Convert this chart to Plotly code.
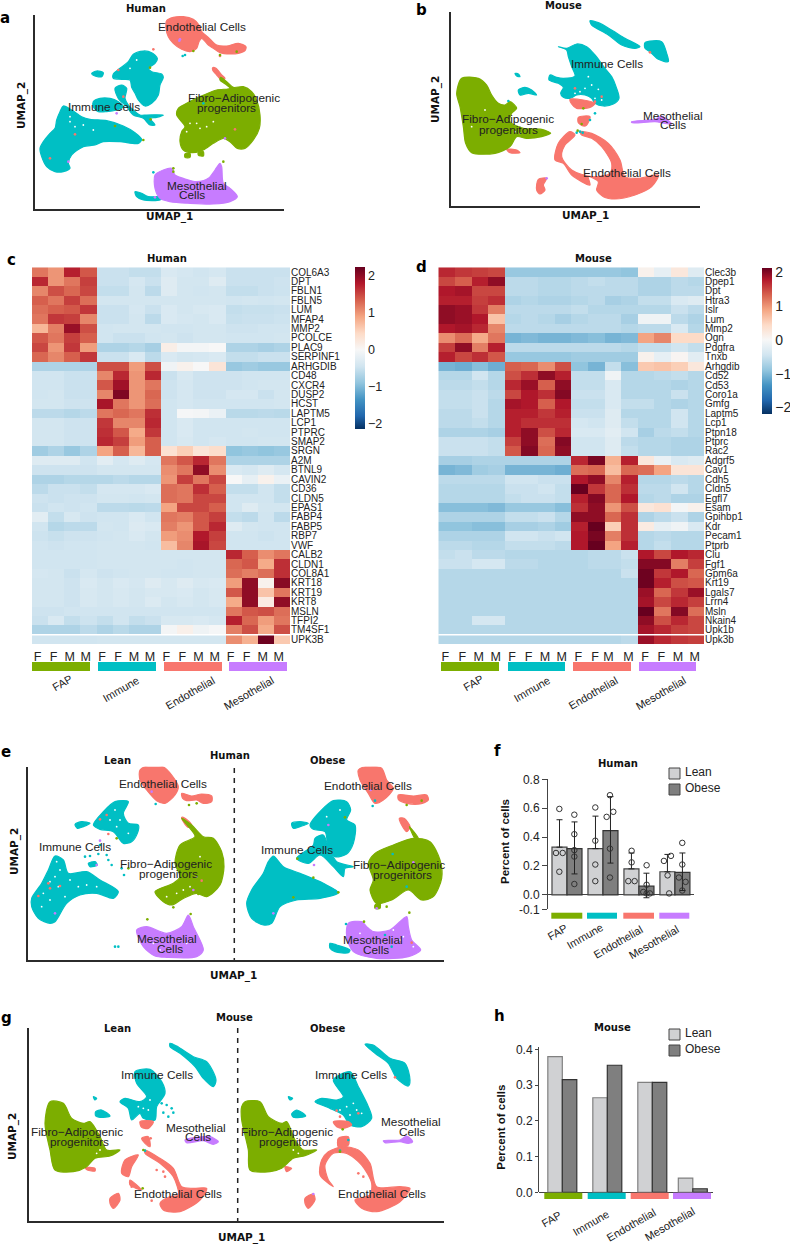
import plotly.graph_objects as go

W, H = 790, 1244
TEAL, GREEN, PINK, PURPLE = "#00BFC4", "#7CAE00", "#F8766D", "#C77CFF"
CLUSTER_COLORS = {"Immune": TEAL, "Endothelial": PINK, "FAP": GREEN, "Mesothelial": PURPLE}
INK = "#222222"
SANS = "Liberation Sans"
BOLD = "DejaVu Sans"

# ---------- UMAP cluster outlines (panel units) ----------
a_immune = [
    [(405,575),(425,580),(445,590),(490,590),(480,600),(430,600),(410,590)],
    [(190,318),(215,330),(245,350),(270,358),(320,362),(370,378),(405,398),(425,418),(415,430),(360,425),(310,425),(285,435),(250,440),(215,465),(205,490),(210,505),(190,515),(165,515),(140,500),(125,470),(120,445),(130,425),(150,400),(165,385),(170,360),(180,335)],
    [(340,222),(360,205),(385,185),(400,163),(430,153),(455,158),(472,175),(465,190),(445,205),(455,215),(485,222),(490,232),(480,255),(475,285),(455,310),(435,318),(415,300),(405,280),(395,262),(390,240),(365,238),(340,235)],
    [(275,220),(290,213),(310,218),(305,230),(285,228)],
    [(280,305),(300,295),(330,295),(355,305),(370,320),(350,330),(320,335),(295,335),(280,320)],
    [(345,265),(365,255),(380,265),(375,295),(385,315),(400,330),(420,345),(440,345),(490,345),(470,352),(450,355),(465,375),(450,375),(430,355),(400,345),(380,320),(355,295)],
]
a_endothelial = [
    [(500,62),(520,52),(550,50),(580,58),(597,75),(605,95),(625,112),(650,135),(680,138),(715,130),(738,140),(735,152),(715,160),(690,162),(660,158),(640,145),(625,135),(605,115),(597,125),(590,145),(570,155),(545,148),(520,130),(505,110),(498,85)],
    [(638,203),(648,205),(665,225),(675,235),(665,240),(650,225),(638,210)],
]
a_fap = [
    [(662,232),(680,245),(700,262),(730,260),(755,275),(770,300),(780,345),(778,385),(760,420),(735,445),(712,445),(690,425),(670,415),(640,430),(610,450),(575,458),(550,450),(540,425),(545,395),(555,380),(530,345),(535,325),(560,310),(600,290),(650,270),(690,265),(680,255),(660,240)],
    [(555,462),(570,460),(570,472),(555,472)],
    [(595,455),(610,455),(610,468),(595,465)],
]
a_meso = [
    [(465,525),(490,510),(515,505),(525,525),(550,535),(590,545),(625,535),(645,510),(660,490),(665,500),(670,550),(690,565),(712,590),(690,605),(640,612),(570,610),(510,605),(480,595),(465,565)],
]
a_strays = {
    "Immune": [(555,165),(460,517),(548,168),(610,310)],
    "Endothelial": [(225,403),(150,475),(355,210),(460,148),(705,388),(370,290),(660,168)],
    "FAP": [(450,203),(430,420),(545,405),(580,153),(660,165),(710,155),(520,505),(520,515),(670,485),(452,358),(345,378)],
    "Mesothelial": [(538,122),(350,340),(205,485),(675,415),(465,592),(540,118)],
}
a_gaps = [(210,350),(225,380),(250,375),(280,390),(590,370),(620,380),(640,365),(570,370),(600,385),(410,180),(390,205),(560,395),(210,365)]

b_immune = [
    [(585,62),(610,68),(650,90),(690,115),(735,140),(720,145),(680,135),(640,105),(590,75)],
    [(750,128),(800,125),(815,160),(820,185),(790,178),(765,155),(750,145)],
    [(490,140),(515,145),(545,132),(575,140),(600,165),(630,205),(650,230),(665,265),(672,295),(655,312),(625,318),(600,310),(590,295),(570,285),(545,285),(525,295),(505,292),(497,280),(505,262),(490,250),(462,240),(465,225),(485,232),(505,235),(540,228),(530,200),(520,170),(515,150)],
    [(360,220),(370,222),(375,230),(365,228)],
    [(370,270),(390,262),(410,270),(425,285),(400,280),(375,285)],
]
b_endothelial = [
    [(525,298),(565,300),(600,310),(585,322),(545,325),(530,312)],
    [(550,352),(585,350),(575,375),(565,378),(550,368)],
    [(555,395),(590,400),(640,430),(675,480),(690,530),(730,535),(790,525),(770,560),(720,585),(660,597),(625,590),(605,570),(610,545),(580,530),(585,555),(530,525),(505,490),(480,480),(490,430),(525,395),(540,405),(510,435),(500,470),(530,510),(590,530),(645,520),(650,490),(620,440),(590,415),(560,405)],
    [(430,538),(455,535),(445,555),(450,570),(435,582),(425,570)],
    [(335,448),(365,450),(375,458),(345,458)],
]
b_fap = [
    [(200,235),(250,235),(275,255),(290,285),(310,310),(330,315),(345,305),(365,325),(350,340),(345,365),(385,385),(440,388),(467,400),(440,410),(395,415),(365,410),(345,440),(300,460),(230,458),(212,430),(205,380),(195,320),(185,280)],
]
b_meso = [
    [(710,365),(780,358),(800,348),(815,358),(830,372),(810,370),(780,365),(710,368)],
]
b_strays = {
    "Immune": [(545,398),(555,395),(563,398),(585,360),(340,303),(600,340)],
    "Endothelial": [(620,290),(540,265),(765,157),(600,305)],
    "FAP": [(560,372),(565,325),(548,392)],
    "Mesothelial": [(455,535)],
}
b_gaps = [(580,230),(610,268),(600,295),(570,265),(555,275),(540,280),(620,300),(590,255),(230,380),(270,330),(375,400),(360,395)]

e_immune = [
    [(385,215),(345,215),(310,245),(280,285),(300,298),(340,305),(370,340),(395,335),(412,310),(415,285),(385,280),(370,250)],
    [(225,283),(245,275),(270,280),(250,290),(232,295)],
    [(165,378),(190,390),(205,430),(260,425),(300,450),(355,485),(340,505),(290,490),(240,495),(200,520),(165,575),(150,580),(115,565),(95,530),(95,505),(125,460),(145,420)],
    [(265,400),(285,395),(292,405),(270,410)],
    [(875,280),(900,275),(925,280),(900,290),(880,295)],
    [(965,240),(1000,212),(1040,215),(1052,240),(1040,270),(1065,285),(1060,340),(1040,372),(1005,380),(985,355),(975,305),(940,298),(930,285)],
    [(945,325),(970,315),(985,350),(1010,395),(1060,410),(1035,415),(1030,440),(1000,410),(960,375),(925,400),(890,385),(940,345)],
    [(820,378),(850,410),(900,430),(970,460),(1015,488),(960,505),(890,510),(840,530),(815,580),(790,585),(755,565),(740,520),(755,480),(790,430),(805,395)],
    [(990,640),(1010,645),(1050,660),(1045,668),(1005,665),(990,655)],
]
e_endothelial = [
    [(420,120),(450,105),(490,110),(515,135),(535,170),(525,195),(495,220),(470,212),(440,180),(420,150)],
    [(545,190),(575,198),(605,192),(635,198),(635,215),(610,220),(590,210),(560,212),(548,205)],
    [(545,262),(555,265),(575,285),(565,292),(550,275)],
    [(1075,120),(1105,108),(1145,115),(1160,150),(1180,175),(1150,210),(1125,220),(1105,190),(1080,150)],
    [(1195,195),(1240,198),(1280,195),(1285,210),(1260,222),(1220,220),(1195,208)],
    [(1198,265),(1212,265),(1230,290),(1220,305),(1205,285)],
]
e_fap = [
    [(545,265),(575,285),(610,320),(640,325),(665,365),(672,410),(660,465),(620,500),(590,490),(550,505),(515,525),(490,515),(465,485),(520,460),(540,440),(525,400),(540,345),(585,320),(570,295)],
    [(1240,325),(1290,335),(1320,390),(1325,445),(1300,500),(1265,510),(1225,480),(1175,510),(1130,520),(1110,480),(1120,450),(1105,400),(1125,370),(1180,345)],
    [(1125,525),(1140,520),(1140,535),(1125,535)],
    [(1228,290),(1255,325),(1245,325),(1232,300)],
]
e_meso = [
    [(565,555),(580,590),(610,660),(590,680),(500,682),(465,678),(430,650),(410,600),(440,590),(500,610),(545,590)],
    [(1045,580),(1085,575),(1100,590),(1120,605),(1170,600),(1220,560),(1225,590),(1235,630),(1262,660),(1225,680),(1130,685),(1060,665),(1040,620)],
]
e_strays = {
    "Immune": [(300,345),(320,375),(295,372),(270,378),(255,380),(325,390),(335,405),(365,415),(372,435),(345,650),(355,650),(467,222),(1125,212),(1118,228),(1178,372),(1220,470),(1175,650),(1155,615),(1038,582)],
    "Endothelial": [(145,460),(180,468),(150,475),(115,498),(320,255),(325,312),(300,268),(1235,638),(605,452)],
    "FAP": [(567,225),(590,220),(442,568),(572,552),(350,325),(385,415),(892,386),(1035,262),(940,443),(880,502),(1015,487),(1092,575),(1228,548),(1160,530),(1265,212),(1220,225),(595,492),(520,532)],
    "Mesothelial": [(455,185),(165,550),(290,405),(300,332),(440,595),(580,480),(1112,180),(985,285),(942,405),(820,550),(1240,397),(1130,535)],
}
e_gaps = [(180,420),(165,440),(210,450),(130,490),(150,510),(235,470),(260,465),(290,470),(175,470),(125,530),(170,395),(150,455),(195,500),(345,240),(360,270),(330,270),(385,310),(350,290),(1020,240),(980,260),(570,470),(550,480),(530,490),(590,440),(500,500),(600,380),(480,660),(560,640),(460,640),(1150,640),(1200,630),(1180,600),(1210,620),(1240,650),(1120,640),(1080,610)]

g_immune = [
    [(510,160),(530,168),(580,200),(620,215),(648,270),(640,290),(610,265),(585,230),(540,190),(510,170)],
    [(405,245),(450,238),(485,275),(495,310),(470,350),(465,390),(430,385),(420,370),(395,390),(385,355),(360,335),(375,325),(420,335),(440,320),(410,280)],
    [(280,320),(290,325),(285,330)],
    [(287,365),(305,360),(330,378),(300,382),(287,378)],
    [(1095,163),(1120,165),(1170,205),(1215,220),(1230,270),(1225,288),(1190,265),(1165,220),(1125,190)],
    [(1000,270),(1050,245),(1075,290),(1105,350),(1115,385),(1085,410),(1050,405),(1030,375),(990,355),(965,345),(945,335),(965,325),(1010,330),(1030,320)],
    [(865,320),(878,325),(870,330)],
    [(875,372),(890,360),(917,378),(880,382)],
]
g_endothelial = [
    [(420,395),(460,395),(445,415),(425,412)],
    [(425,445),(445,440),(450,470),(435,460)],
    [(435,480),(480,505),(520,535),(545,590),(580,595),(620,595),(600,630),(540,665),(490,660),(480,640),(510,620),(535,615),(520,560),(480,520),(435,490)],
    [(375,510),(415,495),(395,530),(385,560),(365,550)],
    [(390,570),(425,600),(390,585)],
    [(330,625),(355,610),(360,630),(340,655),(330,640)],
    [(255,533),(285,535),(285,543),(262,540)],
    [(1000,395),(1045,395),(1055,405),(1030,415),(1010,410)],
    [(1015,445),(1045,440),(1045,465),(1015,470)],
    [(1030,470),(1075,480),(1110,520),(1130,590),(1200,590),(1230,595),(1200,635),(1130,665),(1085,655),(1065,630),(1110,615),(1115,580),(1085,525),(1040,490),(1000,490),(975,525),(985,570),(1000,590),(960,555),(965,510),(985,485)],
    [(915,625),(940,612),(945,630),(925,655),(915,640)],
    [(855,530),(875,535),(860,545)],
]
g_fap = [
    [(150,335),(190,340),(215,385),(250,400),(270,395),(300,440),(320,480),(360,480),(330,498),(285,505),(260,530),(220,545),(165,540),(150,480),(135,400)],
    [(735,335),(780,335),(805,380),(845,400),(860,395),(885,450),(910,480),(950,480),(915,497),(880,505),(845,535),(810,545),(750,540),(745,480),(725,390),(725,350)],
]
g_meso = [
    [(555,450),(610,440),(630,440),(655,455),(640,463),(610,452),(560,458)],
    [(1150,452),(1200,450),(1220,438),(1238,455),(1225,460),(1200,455),(1155,458)],
]
g_strays = {
    "Immune": [(485,340),(500,345),(515,355),(520,368),(490,368),(505,380),(475,335),(435,482),(1020,482),(1045,450),(610,250)],
    "Endothelial": [(452,445),(395,590),(455,632),(470,540),(490,545),(495,560),(1090,560),(1075,550),(1185,262),(1075,370),(1010,362),(1020,380)],
    "FAP": [(428,595),(430,480),(1028,418),(1020,485)],
    "Mesothelial": [(940,612)],
}
g_gaps = [(450,330),(430,355),(415,350),(445,360),(1060,340),(1040,350),(1085,370),(1070,360),(1050,375),(1020,360),(290,490),(300,480),(880,480),(895,490)]

# ---------- Heatmap c: Human ----------
human_genes = ["COL6A3","DPT","FBLN1","FBLN5","LUM","MFAP4","MMP2","PCOLCE","PLAC9","SERPINF1",
               "ARHGDIB","CD48","CXCR4","DUSP2","HCST","LAPTM5","LCP1","PTPRC","SMAP2","SRGN",
               "A2M","BTNL9","CAVIN2","CD36","CLDN5","EPAS1","FABP4","FABP5","RBP7","VWF",
               "CALB2","CLDN1","COL8A1","KRT18","KRT19","KRT8","MSLN","TFPI2","TM4SF1","UPK3B"]
human_expr = [
 [1.2,1.0,1.75,1.4, -.5,-.5,-.55,-.55, -.35,-.4,-.45,-.4, -.5,-.5,-.5,-.5],
 [1.7,1.0,1.2,1.55, -.5,-.5,-.4,-.5, -.3,-.42,-.42,-.3, -.5,-.5,-.5,-.47],
 [1.1,1.45,1.3,1.5, -.55,-.55,-.42,-.6, -.3,-.42,-.45,-.42, -.55,-.55,-.5,-.48],
 [1.35,1.2,1.55,1.25, -.42,-.42,-.42,-.42, -.42,-.42,-.42,-.42, -.45,-.42,-.45,-.42],
 [1.25,1.35,1.4,1.6, -.5,-.5,-.4,-.5, -.35,-.42,-.38,-.35, -.55,-.52,-.52,-.5],
 [1.2,1.6,1.55,1.1, -.5,-.5,-.42,-.6, -.35,-.4,-.42,-.35, -.52,-.5,-.5,-.48],
 [.75,1.15,1.95,1.45, -.45,-.42,-.42,-.42, -.45,-.45,-.42,-.42, -.47,-.47,-.45,-.45],
 [1.4,1.2,1.55,1.35, -.45,-.5,-.5,-.45, -.42,-.47,-.42,-.42, -.45,-.45,-.45,-.42],
 [1.5,1.0,1.6,.95, -.7,-.7,-.65,-.75, .15,-.05,-.05,0, -.7,-.7,-.75,-.7],
 [1.3,1.1,1.35,1.6, -.5,-.5,-.35,-.6, -.35,-.42,-.4,-.35, -.55,-.55,-.5,-.5],
 [-.7,-.7,-.7,-.7, 1.45,1.45,.95,1.45, -.1,.1,0,.3, -.85,-.8,-.85,-.85],
 [-.45,-.45,-.5,-.5, 1.1,1.7,1.0,1.7, -.5,-.38,-.47,-.47, -.47,-.45,-.45,-.45],
 [-.45,-.45,-.5,-.5, 1.4,1.9,1.0,1.2, -.47,-.4,-.47,-.47, -.47,-.45,-.42,-.42],
 [-.45,-.42,-.5,-.5, 1.1,2.1,1.0,1.3, -.47,-.4,-.47,-.47, -.4,-.4,-.5,-.42],
 [-.42,-.42,-.47,-.47, 1.85,1.2,1.0,1.25, -.45,-.4,-.45,-.45, -.45,-.45,-.45,-.42],
 [-.6,-.6,-.65,-.6, 1.2,1.3,1.2,1.65, -.45,-.02,-.05,-.15, -.62,-.62,-.6,-.62],
 [-.42,-.42,-.47,-.47, 1.6,1.1,1.1,1.7, -.45,-.35,-.45,-.45, -.45,-.45,-.45,-.45],
 [-.42,-.42,-.47,-.47, 1.65,1.4,.85,1.6, -.45,-.35,-.45,-.45, -.45,-.42,-.45,-.45],
 [-.42,-.42,-.47,-.47, 1.7,1.55,.95,1.35, -.45,-.38,-.45,-.4, -.45,-.45,-.42,-.42],
 [-.8,-.7,-.85,-.7, .9,1.35,.75,1.35, .35,.55,.3,.4, -.9,-.85,-.9,-.85],
 [-.3,-.3,-.3,-.45, -.25,-.4,-.3,-.4, 1.2,1.4,1.7,1.2, -.7,-.7,-.7,-.7],
 [-.47,-.47,-.47,-.47, -.42,-.42,-.42,-.42, 1.05,1.2,2.0,1.05, -.35,-.4,-.3,-.4],
 [-.7,-.7,-.65,-.65, -.65,-.6,-.65,-.65, 1.0,1.55,1.2,1.5, 0,-.2,.1,-.15],
 [-.6,-.5,-.5,-.55, -.4,-.4,-.4,-.35, 1.25,1.2,1.65,1.35, -.55,-.55,-.45,-.55],
 [-.47,-.5,-.47,-.47, -.42,-.42,-.45,-.42, 1.25,1.2,1.5,1.5, -.45,-.45,-.45,-.55],
 [-.5,-.45,-.47,-.45, -.6,-.6,-.62,-.6, .9,1.5,1.5,1.35, -.45,-.3,-.42,-.42],
 [-.25,-.55,-.38,-.47, -.45,-.45,-.35,-.45, 1.2,1.15,1.4,1.55, -.55,-.6,-.45,-.6],
 [-.45,-.65,-.6,-.6, -.42,-.45,-.32,-.35, 1.15,1.0,1.4,1.7, -.3,-.42,-.45,-.45],
 [-.48,-.52,-.47,-.47, -.45,-.42,-.35,-.42, .95,1.05,1.8,1.55, -.45,-.45,-.48,-.45],
 [-.45,-.47,-.45,-.45, -.42,-.42,-.42,-.45, .7,1.1,1.85,1.5, -.45,-.45,-.45,-.45],
 [-.45,-.45,-.45,-.45, -.42,-.42,-.42,-.42, -.42,-.42,-.42,-.42, 1.7,1.35,1.05,1.2],
 [-.45,-.45,-.45,-.45, -.42,-.42,-.42,-.42, -.42,-.45,-.42,-.42, 1.3,1.4,.85,1.65],
 [-.4,-.42,-.5,-.4, -.47,-.45,-.42,-.42, -.45,-.45,-.42,-.42, 1.25,1.15,1.25,1.65],
 [-.42,-.42,-.47,-.35, -.42,-.35,-.4,-.3, -.38,-.3,-.38,-.35, .95,2.0,.1,2.05],
 [-.42,-.42,-.47,-.38, -.42,-.38,-.42,-.38, -.38,-.35,-.42,-.38, 1.4,2.0,.65,1.2],
 [-.42,-.42,-.47,-.38, -.42,-.38,-.42,-.33, -.42,-.38,-.42,-.38, .85,2.0,.2,2.0],
 [-.47,-.47,-.45,-.45, -.45,-.45,-.45,-.45, -.45,-.45,-.45,-.45, 1.2,1.4,1.45,1.25],
 [-.5,-.35,-.55,-.48, -.55,-.45,-.55,-.5, -.38,-.38,-.35,-.4, 1.75,1.3,.95,1.2],
 [-.7,-.7,-.7,-.6, -.7,-.62,-.7,-.7, -.05,.12,-.1,-.02, 1.15,1.45,.85,1.45],
 [-.45,-.45,-.45,-.45, -.42,-.42,-.42,-.42, -.42,-.42,-.42,-.42, 1.05,.8,2.2,.6],
]

# ---------- Heatmap d: Mouse ----------
mouse_genes = ["Clec3b","Dpep1","Dpt","Htra3","Islr","Lum","Mmp2","Ogn","Pdgfra","Tnxb",
               "Arhgdib","Cd52","Cd53","Coro1a","Gmfg","Laptm5","Lcp1","Ptpn18","Ptprc","Rac2",
               "Adgrf5","Cav1","Cdh5","Cldn5","Egfl7","Esam","Gpihbp1","Kdr","Pecam1","Ptprb",
               "Clu","Fgf1","Gpm6a","Krt19","Lgals7","Lrrn4","Msln","Nkain4","Upk1b","Upk3b"]
mouse_expr = [
 [1.7,1.6,1.55,1.5, -.85,-.85,-.85,-.85, -.85,-.85,-.85,-.9, .1,-.2,.25,-.3],
 [1.5,1.35,1.75,1.95, -.6,-.6,-.65,-.65, -.6,-.55,-.6,-.6, -.7,-.7,-.6,-.65],
 [1.8,1.85,1.5,1.5, -.6,-.6,-.65,-.65, -.6,-.6,-.6,-.6, -.7,-.7,-.6,-.6],
 [1.75,1.75,1.55,1.65, -.7,-.65,-.7,-.7, -.65,-.6,-.75,-.7, -.55,-.55,-.35,-.3],
 [1.95,1.9,1.6,1.15, -.6,-.6,-.6,-.6, -.55,-.65,-.65,-.65, -.65,-.65,-.5,-.6],
 [1.95,1.9,1.8,.65, -.65,-.6,-.65,-.75, -.65,-.6,-.6,-.75, -.1,-.1,-.6,-.7],
 [1.8,1.85,1.7,1.1, -.6,-.6,-.6,-.6, -.6,-.6,-.6,-.65, -.6,-.6,-.35,-.65],
 [1.05,1.25,.85,1.2, -1.05,-1.0,-1.05,-1.05, -1.0,-.95,-1.05,-1.0, .9,1.1,.45,.45],
 [1.55,1.95,1.15,1.75, -.6,-.6,-.6,-.6, -.6,-.6,-.6,-.65, -.55,-.55,-.45,-.55],
 [1.75,1.5,1.65,1.4, -.85,-.85,-.85,-.85, -.8,-.8,-.8,-.8, .1,-.2,.05,-.25],
 [-1.05,-1.1,-.95,-1.1, 1.35,1.3,1.05,1.45, -.9,-1.05,-.55,-.95, .6,.65,.55,.25],
 [-.65,-.65,-.45,-.65, 1.45,1.65,1.95,1.75, -.55,-.55,-.1,-.65, -.65,-.6,-.55,-.65],
 [-.6,-.6,-.55,-.65, 1.7,1.9,1.35,1.95, -.55,-.55,-.35,-.65, -.65,-.65,-.7,-.65],
 [-.55,-.55,-.5,-.6, 1.5,1.8,1.65,2.0, -.5,-.5,-.35,-.65, -.65,-.65,-.5,-.65],
 [-.55,-.55,-.5,-.65, 1.85,1.8,1.35,1.8, -.55,-.55,-.35,-.55, -.55,-.65,-.7,-.65],
 [-.6,-.6,-.5,-.65, 1.75,1.75,1.6,1.75, -.5,-.5,-.3,-.65, -.65,-.65,-.45,-.65],
 [-.6,-.6,-.55,-.65, 1.75,1.65,1.65,1.65, -.4,-.45,-.3,-.55, -.65,-.65,-.45,-.65],
 [-.7,-.7,-.7,-.75, 1.75,1.95,1.45,1.7, -.35,-.35,-.25,-.45, -.75,-.6,-.55,-.65],
 [-.5,-.5,-.5,-.55, 1.55,1.95,1.25,2.0, -.45,-.45,-.3,-.6, -.65,-.65,-.7,-.7],
 [-.5,-.5,-.5,-.55, 1.4,2.0,1.3,1.95, -.45,-.45,-.3,-.55, -.65,-.65,-.7,-.7],
 [-.75,-.75,-.7,-.7, -.7,-.7,-.7,-.7, 1.7,2.05,.8,1.75, .25,-.15,-.35,-.3],
 [-1.05,-1.0,-.8,-.75, -1.05,-1.05,-1.05,-1.1, 1.25,1.3,.7,1.3, 1.25,.9,.3,.3],
 [-.6,-.6,-.6,-.6, -.45,-.45,-.5,-.5, 1.8,1.95,1.1,1.75, -.65,-.65,-.6,-.65],
 [-.65,-.65,-.65,-.65, -.5,-.5,-.45,-.55, 2.13,1.6,1.3,1.65, -.6,-.6,-.45,-.65],
 [-.65,-.65,-.65,-.65, -.55,-.5,-.5,-.55, 1.75,2.0,1.3,1.8, -.65,-.6,-.7,-.7],
 [-.95,-.95,-.95,-1.0, -.85,-.85,-.85,-.95, 1.65,1.95,1.0,1.45, .25,.35,-.05,.1],
 [-.7,-.7,-.7,-.7, -.55,-.55,-.5,-.65, 1.95,1.95,1.3,1.65, -.7,-.6,-.5,-.7],
 [-.9,-.9,-.95,-.95, -.75,-.75,-.7,-.8, 1.75,2.13,.55,1.65, .2,-.2,-.1,-.35],
 [-.7,-.7,-.7,-.7, -.45,-.45,-.5,-.45, 1.8,2.05,1.15,1.65, -.65,-.6,-.65,-.65],
 [-.6,-.6,-.65,-.65, -.55,-.55,-.55,-.6, 1.8,2.13,.9,1.75, -.65,-.55,-.65,-.65],
 [-.55,-.5,-.6,-.6, -.65,-.65,-.65,-.65, -.65,-.6,-.6,-.5, 1.8,1.5,1.8,1.7],
 [-.5,-.5,-.4,-.4, -.6,-.6,-.65,-.65, -.65,-.6,-.6,-.55, 2.0,2.0,1.15,1.55],
 [-.65,-.65,-.65,-.65, -.65,-.65,-.65,-.65, -.65,-.65,-.65,-.5, 2.1,1.6,1.8,1.3],
 [-.65,-.65,-.65,-.65, -.65,-.65,-.65,-.65, -.65,-.65,-.65,-.65, 2.1,1.75,1.45,1.4],
 [-.65,-.65,-.65,-.65, -.65,-.65,-.65,-.65, -.65,-.65,-.65,-.65, 1.9,1.3,1.6,1.9],
 [-.65,-.65,-.65,-.65, -.65,-.65,-.65,-.65, -.65,-.65,-.65,-.65, 1.85,1.5,1.7,1.55],
 [-.65,-.65,-.65,-.65, -.65,-.65,-.65,-.65, -.65,-.65,-.65,-.65, 2.13,1.2,2.0,1.25],
 [-.65,-.65,-.4,-.4, -.65,-.65,-.65,-.65, -.65,-.65,-.65,-.65, 1.95,1.45,1.7,1.5],
 [-.65,-.65,-.65,-.65, -.65,-.65,-.65,-.65, -.65,-.65,-.65,-.65, 1.85,1.7,1.55,1.5],
 [-.65,-.65,-.65,-.65, -.65,-.65,-.65,-.65, -.65,-.65,-.65,-.6, 1.9,1.7,1.6,1.55],
]
sample_sex = ["F","F","M","M"] * 4
cell_groups = ["FAP", "Immune", "Endothelial", "Mesothelial"]

# ---------- Bars f and h ----------
human_lean = [0.33, 0.32, 0.18, 0.16]
human_obese = [0.32, 0.445, 0.06, 0.155]
human_lean_err_up = [0.19, 0.225, 0.11, 0.12]
human_obese_err_up = [0.185, 0.235, 0.09, 0.135]
human_obese_err_down = [0.175, 0.225, 0.08, 0.125]
human_lean_pts_group = [-.213,-.306,-.12,-.213, .787,.787,.787,.787, 1.796,1.796,1.704,1.88, 2.694,2.889,2.796,2.84]
human_lean_pts = [.595,.29,.29,.16, .605,.375,.21,.095, .305,.225,.095,.095, .235,.27,.135,.01]
human_obese_pts_group = [.204,.204,.204,.204,.204, 1.194,1.287,1.102,1.194,1.194, 2.213,2.213,2.12,2.306,2.213, 3.204,3.204,3.111,3.296,3.204]
human_obese_pts = [.555,.42,.31,.265,.075, .69,.575,.54,.32,.12, .205,.07,.02,.01,.01, .36,.21,.12,.09,.03]
mouse_lean = [0.38, 0.265, 0.308, 0.04]
mouse_obese = [0.316, 0.356, 0.308, 0.01]
mouse_group_pos = [0, 1, 2, 2.9]

# ---------- helpers ----------
fig = go.Figure()
annotations, shapes = [], []
axis_count = [0]

def px(x): return x / W
def py(y): return 1 - y / H

def text(s, x, y, size=11.8, bold=False, angle=0, anchor="center", color=INK, family=None):
    annotations.append(dict(text=s, x=px(x), y=py(y), xref="paper", yref="paper", showarrow=False,
                            xanchor=anchor, yanchor="middle", textangle=angle,
                            font=dict(size=size, color=color, family=family or (BOLD if bold else SANS),
                                      weight="bold" if bold else "normal")))

def rect(x0, y0, x1, y1, color, line=None):
    shapes.append(dict(type="rect", xref="paper", yref="paper", x0=px(x0), x1=px(x1), y0=py(y0), y1=py(y1),
                       fillcolor=color, line=dict(width=1 if line else 0, color=line or color), layer="above"))

def axes(left, top, right, bottom, xcfg, ycfg):
    axis_count[0] += 1
    n = axis_count[0]
    s = "" if n == 1 else str(n)
    fig.layout["xaxis" + s] = dict(domain=[px(left), px(right)], anchor="y" + s, **xcfg)
    fig.layout["yaxis" + s] = dict(domain=[py(bottom), py(top)], anchor="x" + s, **ycfg)
    return "x" + s, "y" + s

def join(polys):
    xs, ys = [], []
    for poly in polys:
        xs += [p[0] for p in poly] + [poly[0][0], None]
        ys += [p[1] for p in poly] + [poly[0][1], None]
    return xs, ys

def umap_panel(crop, xr, yr, clusters, strays, gaps):
    left, right = crop[0] + xr[0] / 3, crop[0] + xr[1] / 3
    top, bottom = crop[1] + yr[0] / 3, crop[1] + yr[1] / 3
    line = dict(showline=True, linecolor="#2b2b2b", linewidth=1.6, showgrid=False, zeroline=False,
                showticklabels=False, ticks="")
    xa, ya = axes(left, top, right, bottom, dict(range=list(xr), **line), dict(range=[yr[1], yr[0]], **line))
    for name, polys in clusters.items():
        xs, ys = join(polys)
        fig.add_trace(go.Scatter(x=xs, y=ys, xaxis=xa, yaxis=ya, mode="lines", fill="toself",
                                 fillcolor=CLUSTER_COLORS[name],
                                 line=dict(color=CLUSTER_COLORS[name], width=1.2, shape="spline", smoothing=0.8),
                                 showlegend=False, hoverinfo="skip"))
    fig.add_trace(go.Scatter(x=[g[0] for g in gaps], y=[g[1] for g in gaps], xaxis=xa, yaxis=ya, mode="markers",
                             marker=dict(color="white", size=1.8), showlegend=False, hoverinfo="skip"))
    for name, pts in strays.items():
        fig.add_trace(go.Scatter(x=[g[0] for g in pts], y=[g[1] for g in pts], xaxis=xa, yaxis=ya, mode="markers",
                                 marker=dict(color=CLUSTER_COLORS[name], size=2.6), showlegend=False, hoverinfo="skip"))

ANCHORS = ["#053061","#2166ac","#4393c3","#92c5de","#d1e5f0","#f7f7f7","#fddbc7","#f4a582","#d6604d","#b2182b","#67001f"]
def colorscale(zmin, zmax):
    out = []
    for i, c in enumerate(ANCHORS):
        v = -2.24 + i * 0.448
        out.append([min(1, max(0, (v - zmin) / (zmax - zmin))), c])
    return out

def heatmap(rect_px, genes, expr, zmin, zmax, sample_px, cb_x, cb_top, cb_bottom, cb_size, strips, group_labels):
    left, top, right, bottom = rect_px
    col = (right - left) / 16
    xa, ya = axes(left, top, right, bottom,
        dict(range=[-0.5, 15.5], tickmode="array", tickvals=[(p - left) / col - 0.5 for p in sample_px], ticktext=sample_sex,
             ticks="outside", ticklen=1, tickcolor="rgba(0,0,0,0)", tickfont=dict(size=12.5, family=SANS, color=INK),
             showgrid=False, zeroline=False, showline=False),
        dict(range=[39.5, -0.5], side="right", tickmode="array", tickvals=list(range(40)), ticktext=genes,
             ticks="", tickfont=dict(size=10, family=SANS, color=INK), showgrid=False, zeroline=False, showline=False))
    fig.add_trace(go.Heatmap(z=expr, x=list(range(16)), y=list(range(40)), xaxis=xa, yaxis=ya,
        zmin=zmin, zmax=zmax, colorscale=colorscale(zmin, zmax), hoverinfo="skip",
        colorbar=dict(x=px(cb_x), xanchor="left", xpad=0, ypad=0, y=py(cb_bottom), yanchor="bottom", lenmode="pixels",
                      len=cb_bottom - cb_top, thicknessmode="pixels", thickness=9.5, outlinewidth=0, tickmode="array",
                      tickvals=[-2,-1,0,1,2], ticktext=["−2","−1","0","1","2"], ticks="", ticklabelposition="outside",
                      tickfont=dict(size=cb_size, family=SANS, color=INK))))
    y_sep = top + (bottom - top) * 39 / 40
    shapes.append(dict(type="line", xref="paper", yref="paper", x0=px(left), x1=px(right), y0=py(y_sep), y1=py(y_sep),
                       line=dict(color="white", width=1.5), layer="above"))
    for (x0, x1), c in zip(strips, CLUSTER_COLORS_ORDER):
        rect(x0, 662, x1, 671, c)
    for name, (x, y) in zip(cell_groups, group_labels):
        text(name, x, y, size=11, angle=-30)

CLUSTER_COLORS_ORDER = [GREEN, TEAL, PINK, PURPLE]

def bar_panel(rect_px, xrange, yrange, tickvals, ticktext, ticklen, positions, lean, obese, width, lean_err=None, obese_err=None, lean_line="#444444"):
    left, top, right, bottom = rect_px
    xa, ya = axes(left, top, right, bottom,
        dict(range=list(xrange), showticklabels=False, ticks="", showgrid=False, zeroline=False, showline=False),
        dict(range=list(yrange), tickmode="array", tickvals=tickvals, ticktext=ticktext, ticks="outside", ticklen=ticklen,
             tickcolor="#444444", tickwidth=1, showline=True, linecolor="#444444", linewidth=1, showgrid=False,
             zeroline=True, zerolinecolor="#444444", zerolinewidth=1, tickfont=dict(size=12, family=SANS, color=INK)))
    fig.add_trace(go.Bar(name="Lean", x=positions, y=lean, width=width, offset=-width, xaxis=xa, yaxis=ya,
                         marker=dict(color="#d0d1d3", line=dict(color=lean_line, width=1.2)),
                         error_y=lean_err, showlegend=False, hoverinfo="skip"))
    fig.add_trace(go.Bar(name="Obese", x=positions, y=obese, width=width, offset=0, xaxis=xa, yaxis=ya,
                         marker=dict(color="#7f7f7f", line=dict(color="#333333", width=1.2)),
                         error_y=obese_err, showlegend=False, hoverinfo="skip"))
    return xa, ya

def legend_box(x0, y0, color, label):
    rect(x0, y0, x0 + 11, y0 + 11, color, line="#444444")
    text(label, x0 + 14, y0 + 4, size=12, anchor="left")

# ---------- a ----------
umap_panel((0, 0), (105, 852), (45, 627),
           {"Immune": a_immune, "Endothelial": a_endothelial, "FAP": a_fap, "Mesothelial": a_meso}, a_strays, a_gaps)
# ---------- b ----------
umap_panel((395, 0), (167, 915), (37, 618),
           {"Immune": b_immune, "Endothelial": b_endothelial, "FAP": b_fap, "Mesothelial": b_meso}, b_strays, b_gaps)
# ---------- e ----------
umap_panel((0, 730), (85, 1332), (110, 690),
           {"Immune": e_immune, "Endothelial": e_endothelial, "FAP": e_fap, "Mesothelial": e_meso}, e_strays, e_gaps)
# ---------- g ----------
umap_panel((0, 990), (87, 1332), (113, 692),
           {"Immune": g_immune, "Endothelial": g_endothelial, "FAP": g_fap, "Mesothelial": g_meso}, g_strays, g_gaps)

for x, y0, y1 in [(234.3, 768, 960), (237.7, 1028, 1221)]:
    shapes.append(dict(type="line", xref="paper", yref="paper", x0=px(x), x1=px(x), y0=py(y0), y1=py(y1),
                       line=dict(color=INK, width=1.5, dash="5px,5px"), layer="above"))

# ---------- c, d ----------
heatmap((32, 267.3, 290, 644.1), human_genes, human_expr, -2.14, 2.24,
        [113/3,161/3,209/3,257/3,306/3,354/3,402/3,450/3,499/3,547/3,595/3,644/3,692/3,740/3,788/3,836/3],
        355, 267, 429, 12.5,
        [(32,90),(98,156),(164,222),(229,287)], [(62,683),(121,689),(190,693),(249,693)])
heatmap((438.3, 267.3, 704, 644.1), mouse_genes, mouse_expr, -2.19, 2.13,
        [395+v/3 for v in [151,202,251,302,351,401,450,500,550,600,640,700,750,799,849,899]],
        762, 268, 414, 14,
        [(441,499),(508,565),(573,631),(639,696)], [(473,683),(532,689),(593,693),(661,693)])

# ---------- f ----------
xa, ya = bar_panel((548, 779.3, 694, 909.3), (-0.528, 3.53), (-0.1, 0.8),
          [-0.1,0,0.2,0.4,0.6,0.8], ["-0.1","0.0","0.2","0.4","0.6","0.8"], 5,
          [0,1,2,3], human_lean, human_obese, 0.417,
          dict(type="data", array=human_lean_err_up, arrayminus=[0,0,0,0], color=INK, thickness=1, width=3),
          dict(type="data", array=human_obese_err_up, arrayminus=human_obese_err_down, color=INK, thickness=1, width=3))
for gx, gy in [(human_lean_pts_group, human_lean_pts), (human_obese_pts_group, human_obese_pts)]:
    fig.add_trace(go.Scatter(x=gx, y=gy, xaxis=xa, yaxis=ya, mode="markers", showlegend=False, hoverinfo="skip",
                             marker=dict(symbol="circle-open", size=5.5, color="#333333", line=dict(width=1, color="#333333"))))
for (x0, x1), c in zip([(551.3,582.3),(587,617),(623.3,654),(659.3,689.3)], CLUSTER_COLORS_ORDER):
    rect(x0, 912.7, x1, 918.7, c)
for name, (x, y) in zip(cell_groups, [(557.7,932),(585,936),(618,942),(654,942)]):
    text(name, x, y, size=11, angle=-30)
legend_box(669, 768, "#d0d1d3", "Lean")
legend_box(669, 784, "#7f7f7f", "Obese")

# ---------- h ----------
bar_panel((539, 1046.7, 713, 1192.3), (-0.518, 3.349), (0, 0.408),
          [0,0.1,0.2,0.3,0.4], ["0.0","0.1","0.2","0.3","0.4"], 3,
          mouse_group_pos, mouse_lean, mouse_obese, 0.322, lean_line="#808080")
for (x0, x1), c in zip([(544.3,582.3),(587.7,625.7),(630.7,668.7),(673,711)], CLUSTER_COLORS_ORDER):
    rect(x0, 1192.7, x1, 1199, c)
for name, (x, y) in zip(cell_groups, [(551.7,1219),(590.7,1223),(631,1225),(670,1224)]):
    text(name, x, y, size=11, angle=-30)
legend_box(669, 1029, "#d0d1d3", "Lean")
legend_box(669, 1045, "#7f7f7f", "Obese")

# ---------- texts ----------
for s, x, y in [("a",5,18),("b",422,10),("c",11,260),("d",422,267),("e",6,752),("f",497,751),("g",6,1018),("h",499,1016)]:
    text(s, x, y, size=15, bold=True, color="black")
for s, x, y in [("Human",146,8),("Mouse",563,5),("Human",167,259),("Mouse",593,259),("Human",230,755),("Lean",117,760),
                ("Obese",327,760),("Human",618,763),("Mouse",235,1017),("Lean",117,1028),("Obese",327,1028),("Mouse",612,1027)]:
    text(s, x, y, size=10, bold=True, color="#111111")
for x, y in [(169,217),(585,215),(233,975),(241,1237)]:
    text("UMAP_1", x, y, size=10.5, bold=True, color="#111111")
for x, y in [(21,106),(436,100),(14,852),(12,1137)]:
    text("UMAP_2", x, y, size=10.5, bold=True, angle=-90, color="#111111")
text("Percent of cells", 505, 842, size=11.5, bold=True, angle=-90, family=SANS, color="#111111")
text("Percent of cells", 500.7, 1127, size=11.5, bold=True, angle=-90, family=SANS, color="#111111")

FIBRO, PROG, MESO, CELLS, ENDO, IMM = "Fibro−Adipogenic", "progenitors", "Mesothelial", "Cells", "Endothelial Cells", "Immune Cells"
for s, x, y in [
    (ENDO,202,27),(IMM,104,107),(FIBRO,234,98),(PROG,226,108),(MESO,197,186),(CELLS,192,195),
    (IMM,607,64),(FIBRO,508,119),(PROG,508,130),(MESO,673,116),(CELLS,673,125),(ENDO,627,173),
    (ENDO,163,784),(IMM,75,847),(FIBRO,166,864),(PROG,168,874),(MESO,167,939),(CELLS,170,949),
    (ENDO,368,786),(IMM,297,850),(FIBRO,399,865),(PROG,402,875),(MESO,373,940),(CELLS,376,950),
    (IMM,157,1075),(FIBRO,77,1132),(PROG,79,1142),(MESO,196,1128),(CELLS,198,1137),(ENDO,178,1194),
    (IMM,351,1075),(FIBRO,287,1132),(PROG,288,1142),(MESO,411,1122),(CELLS,412,1132),(ENDO,382,1194),
]:
    text(s, x, y)

fig.update_layout(width=W, height=H, margin=dict(l=0, r=0, t=0, b=0, autoexpand=False), paper_bgcolor="white", plot_bgcolor="rgba(0,0,0,0)",
                  annotations=annotations, shapes=shapes, barmode="overlay", showlegend=False,
                  font=dict(family=SANS, color=INK))
fig.write_html("out.html", post_script="document.body.style.margin='0';document.body.style.overflow='hidden';",
               config=dict(displayModeBar=False))
